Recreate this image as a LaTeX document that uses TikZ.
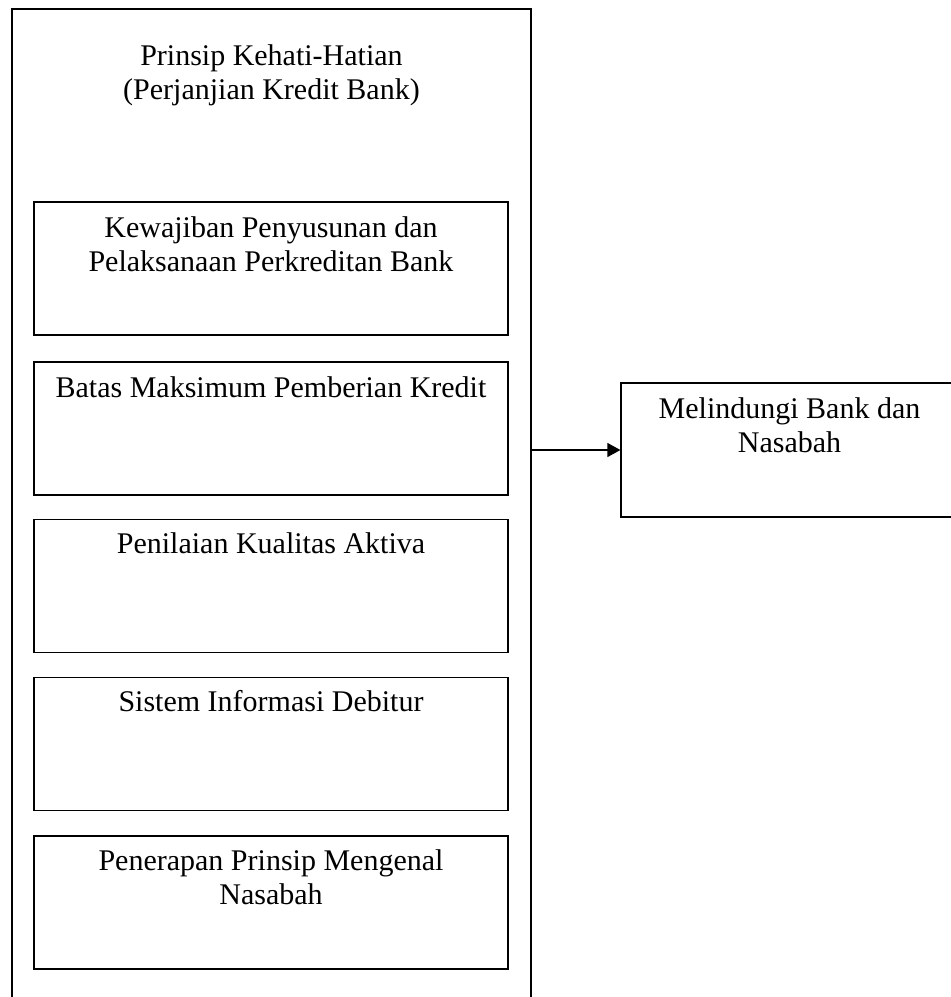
\documentclass[tikz,border=0pt]{standalone}
\usepackage{fontspec}
\setmainfont{Liberation Serif}
\usetikzlibrary{arrows.meta,positioning}
\tikzset{
  every picture/.style={line width=1.2pt, x=1pt, y=-1pt},
  pkframe/.style={draw, rectangle, inner sep=0pt},
  pkbox/.style={pkframe, minimum width=474pt, minimum height=133pt},
  pktext/.style={font=\fontsize{30}{34}\selectfont, align=center,
                 anchor=base, inner sep=0pt},
  pkarrow/.style={-{Triangle[length=13pt,width=14pt]}},
}

\begin{document}
\begin{tikzpicture}
  \useasboundingbox (0,0) rectangle (951,997);
  % outer frame, runs past the bottom of the page
  \node[pkframe, minimum width=519pt, minimum height=1010pt] (prinsip) at (271.5,514) {};
  % base of a two-line text is its last line
  \node[pktext] (judul) at ([yshift=-91pt]prinsip.north)
        {Prinsip Kehati-Hatian\\(Perjanjian Kredit Bank)};
  % the five parts
  \node[pkbox] (kewajiban) at (271,268.5) {};
  \node[pktext] at ([yshift=-70pt]kewajiban.north)
        {Kewajiban Penyusunan dan\\Pelaksanaan Perkreditan Bank};
  \node[pkbox] (batas) at (271,428.5) {};
  \node[pktext] at ([yshift=-36pt]batas.north) {Batas Maksimum Pemberian Kredit};
  \node[pkbox] (penilaian) at (271,586) {};
  \node[pktext] at ([yshift=-35pt]penilaian.north) {Penilaian Kualitas Aktiva};
  \node[pkbox] (sistem) at (271,744) {};
  \node[pktext] at ([yshift=-35pt]sistem.north) {Sistem Informasi Debitur};
  \node[pkbox] (penerapan) at (271,902.5) {};
  \node[pktext] at ([yshift=-69pt]penerapan.north)
        {Penerapan Prinsip Mengenal\\Nasabah};
  % result
  \node[pkframe, minimum width=337pt, minimum height=134pt] (melindungi) at (789.5,450) {};
  \node[pktext] at ([yshift=-70pt]melindungi.north) {Melindungi Bank dan\\Nasabah};
  \draw[pkarrow] (melindungi.west -| prinsip.east) -- (melindungi.west);
\end{tikzpicture}
\end{document}
